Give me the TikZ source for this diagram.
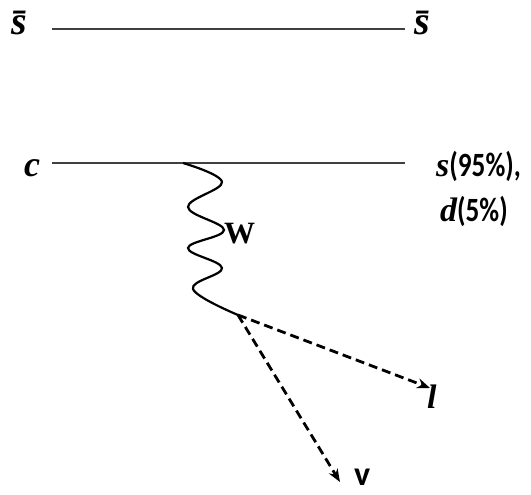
\documentclass[tikz,border=0pt]{standalone}
\usepackage{fontspec}
\setmainfont{Liberation Serif}
\newfontfamily\lblsans{Carlito}
\usetikzlibrary{arrows.meta}
\newcommand\narrowtxt[1]{\scalebox{0.8}[1]{#1}}
\begin{document}
\begin{tikzpicture}[x=1pt,y=-1pt,
  quark/.style={draw=black!75,line width=1.4pt},
  boson/.style={draw=black,line width=2.2pt},
  lepton/.style={draw=black,line width=2.8pt,dash pattern=on 9pt off 5pt,-{Stealth[length=13pt,width=10pt]}},
  lbl/.style={inner sep=0pt,anchor=base west,font=\fontsize{36}{40}\selectfont\bfseries\itshape}]
\useasboundingbox (0,0) rectangle (531,495);
% top spectator line
\coordinate (t1) at (52,29);
\coordinate (t2) at (405,29);
\node[lbl,font=\fontsize{40}{44}\selectfont\bfseries\itshape] (sbL) at (11,35) {\={s}};
\node[lbl,font=\fontsize{40}{44}\selectfont\bfseries\itshape] (sbR) at (414,35) {\={s}};
\draw[quark] (t1) -- (t2);
% c line
\coordinate (c1) at (52,163);
\coordinate (c2) at (405,163);
\coordinate (v1) at (183,163);
\node[lbl] (c) at (24,176) {c};
\node[lbl,font=\fontsize{34}{38}\selectfont\bfseries] (s) at (436,176) {\itshape s\lblsans\upshape\narrowtxt{(95\%),}};
\node[lbl,font=\fontsize{34}{38}\selectfont\bfseries] (d) at (440,222) {\itshape d\lblsans\upshape\narrowtxt{(5\%)}};
\draw[quark] (c1) -- (c2);
% W boson
\coordinate (v2) at (238,315);
\draw[boson] plot[smooth,tension=0.65] coordinates {(v1) (222,182) (188,207) (224,230) (188,248) (222,268) (193,289) (v2)};
\node[lbl,font=\fontsize{31}{33}\selectfont\bfseries] (W) at (224,243) {W};
% leptons
\coordinate (lt) at (430,388);
\coordinate (nt) at (340,482);
\node[lbl,font=\fontsize{34}{38}\selectfont\bfseries\itshape] (l) at (427,408) {l};
\node[lbl,font=\fontsize{34}{38}\selectfont\bfseries\lblsans] (nu) at (354,485) {v};
\draw[lepton] (v2) -- (lt);
\draw[lepton] (v2) -- (nt);
\end{tikzpicture}
\end{document}
